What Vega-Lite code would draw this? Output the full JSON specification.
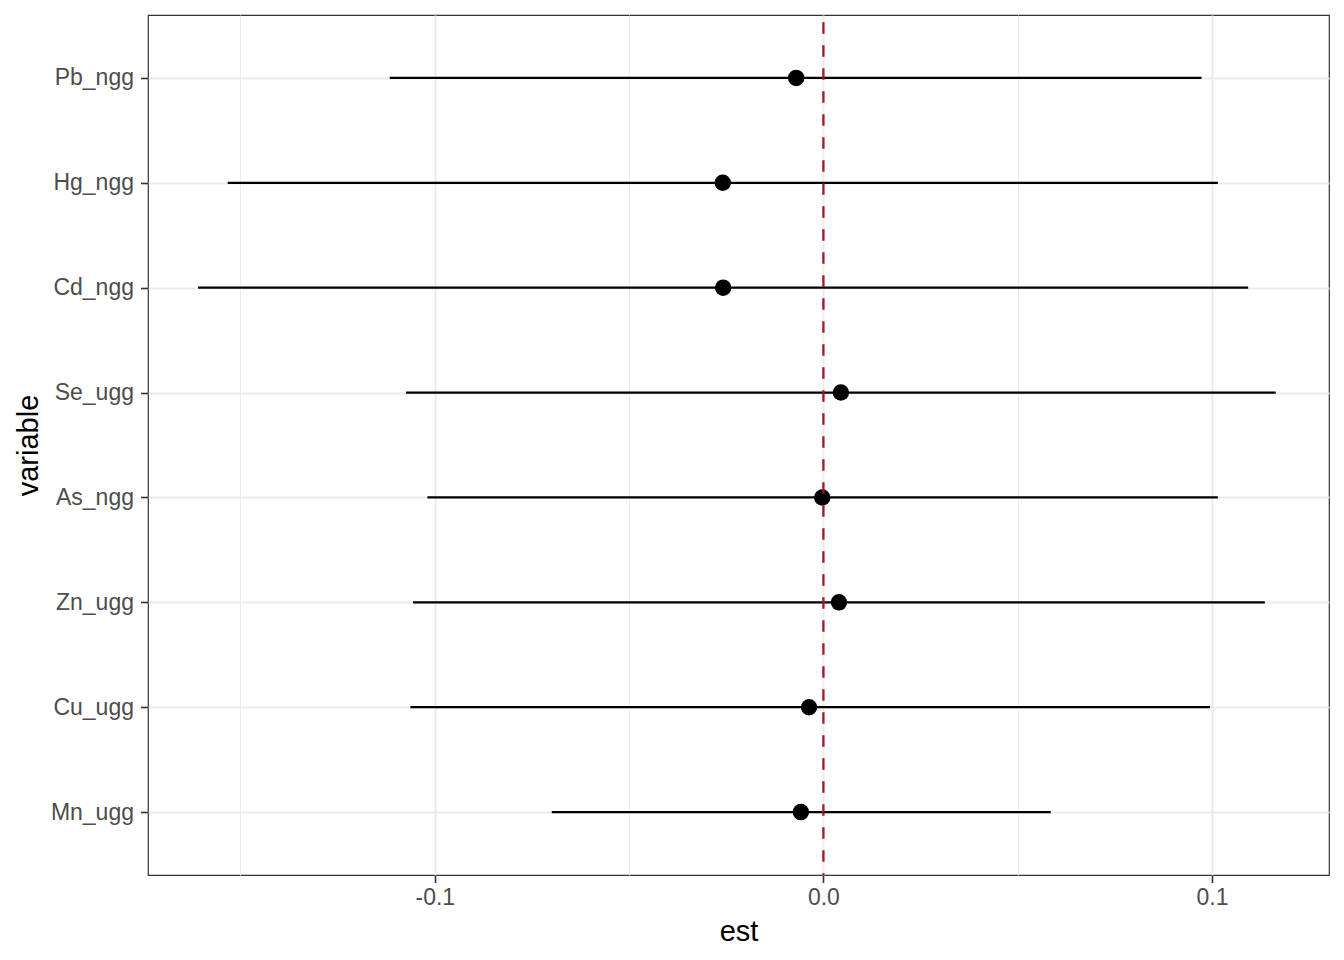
{
  "$schema": "https://vega.github.io/schema/vega-lite/v6.json",
  "width": 1181,
  "height": 860,
  "autosize": {"type": "none"},
  "padding": {"left": 148, "top": 15, "right": 15, "bottom": 85},
  "background": "white",
  "config": {
    "font": "Liberation Sans",
    "view": {"stroke": "#333333", "strokeWidth": 1.2},
    "axis": {"domain": false, "labelFont": "Liberation Sans", "titleFont": "Liberation Sans", "labelFontSize": 23, "labelColor": "#4D4D4D", "titleFontSize": 29, "titleColor": "#000000", "titleFontWeight": "normal", "tickColor": "#333333", "tickWidth": 1.6, "tickSize": 7.5, "gridColor": "#EBEBEB"}
  },
  "data": {
    "values": [
      {"variable": "Pb_ngg", "est": -0.0070, "lo": -0.1116, "hi": 0.0973},
      {"variable": "Hg_ngg", "est": -0.0259, "lo": -0.1533, "hi": 0.1015},
      {"variable": "Cd_ngg", "est": -0.0258, "lo": -0.1609, "hi": 0.1093},
      {"variable": "Se_ugg", "est": 0.0045, "lo": -0.1074, "hi": 0.1164},
      {"variable": "As_ngg", "est": -0.0003, "lo": -0.1019, "hi": 0.1015},
      {"variable": "Zn_ugg", "est": 0.0040, "lo": -0.1056, "hi": 0.1136},
      {"variable": "Cu_ugg", "est": -0.0037, "lo": -0.1063, "hi": 0.0995},
      {"variable": "Mn_ugg", "est": -0.0058, "lo": -0.0699, "hi": 0.0585}
    ]
  },
  "layer": [
    {
      "mark": {"type": "rule", "color": "#000000", "strokeWidth": 2.2},
      "encoding": {
        "y": {"field": "variable", "type": "nominal", "sort": null,
              "scale": {"type": "point", "padding": 0.6},
              "axis": {"title": "variable", "labelPadding": 7, "titlePadding": 7, "grid": true, "gridWidth": 2}},
        "x": {"field": "lo", "type": "quantitative",
              "scale": {"domain": [-0.1738, 0.1301], "nice": false, "zero": false},
              "axis": {"title": "est", "values": [-0.15, -0.1, -0.05, 0, 0.05, 0.1],
                       "labelExpr": "round(abs(datum.value)*20)%2==1 ? '' : (datum.value < 0 ? '-' + format(abs(datum.value), '.1f') : format(datum.value, '.1f'))",
                       "labelPadding": 4, "titlePadding": 8, "grid": true,
                       "gridWidth": {"condition": {"test": "round(abs(datum.value)*20)%2==1", "value": 1}, "value": 2},
                       "tickOpacity": {"condition": {"test": "round(abs(datum.value)*20)%2==1", "value": 0}, "value": 1}}},
        "x2": {"field": "hi"}
      }
    },
    {
      "mark": {"type": "point", "filled": true, "opacity": 1, "color": "#000000", "size": 270, "shape": "circle"},
      "encoding": {
        "y": {"field": "variable", "type": "nominal", "sort": null},
        "x": {"field": "est", "type": "quantitative"}
      }
    },
    {
      "data": {"values": [{"ref": 0}]},
      "mark": {"type": "rule", "color": "#9B1C24", "strokeWidth": 2.3, "strokeDash": [11.5, 11.5], "strokeDashOffset": 15.7},
      "encoding": {
        "x": {"field": "ref", "type": "quantitative"}
      }
    }
  ]
}
